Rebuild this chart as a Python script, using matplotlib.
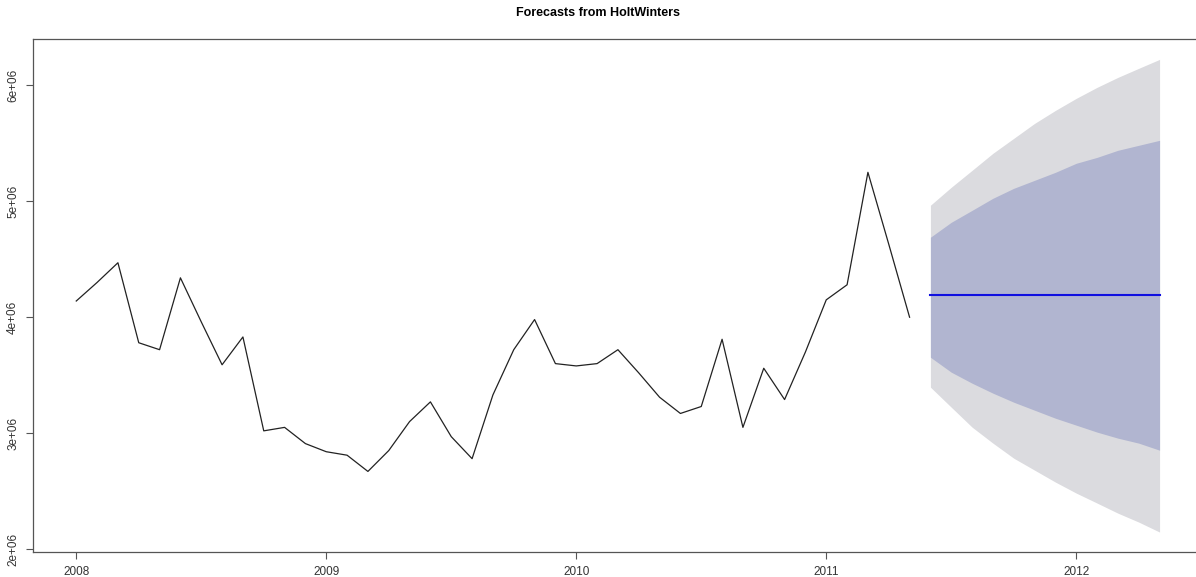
import numpy as np
import matplotlib
matplotlib.use("Agg")
import matplotlib.pyplot as plt

plt.rcParams['font.family'] = ['Liberation Sans', 'DejaVu Sans']

# monthly series, Jan 2008 .. May 2011
start_year = 2008
observed = [4.14e6, 4.30e6, 4.47e6, 3.78e6, 3.72e6, 4.34e6, 3.96e6, 3.59e6, 3.83e6, 3.02e6,
            3.05e6, 2.91e6, 2.84e6, 2.81e6, 2.67e6, 2.85e6, 3.10e6, 3.27e6, 2.97e6, 2.78e6,
            3.33e6, 3.72e6, 3.98e6, 3.60e6, 3.58e6, 3.60e6, 3.72e6, 3.52e6, 3.31e6, 3.17e6,
            3.23e6, 3.81e6, 3.05e6, 3.56e6, 3.29e6, 3.70e6, 4.15e6, 4.28e6, 5.25e6, 4.63e6,
            4.00e6]

# forecast Jun 2011 .. May 2012
fc_mean = [4.19e6] * 12
hi80 = [4.690e6, 4.819e6, 4.922e6, 5.026e6, 5.112e6, 5.181e6, 5.250e6, 5.328e6, 5.379e6,
        5.440e6, 5.483e6, 5.526e6]
lo80 = [3.655e6, 3.526e6, 3.431e6, 3.345e6, 3.267e6, 3.198e6, 3.129e6, 3.069e6, 3.009e6,
        2.957e6, 2.914e6, 2.853e6]
hi95 = [4.966e6, 5.121e6, 5.267e6, 5.414e6, 5.543e6, 5.672e6, 5.784e6, 5.888e6, 5.983e6,
        6.069e6, 6.147e6, 6.224e6]
lo95 = [3.397e6, 3.224e6, 3.052e6, 2.914e6, 2.784e6, 2.681e6, 2.578e6, 2.483e6, 2.397e6,
        2.310e6, 2.233e6, 2.147e6]

year_ticks = [2008, 2009, 2010, 2011, 2012]
y_ticks = [2e6, 3e6, 4e6, 5e6, 6e6]
y_labels = ['2e+06', '3e+06', '4e+06', '5e+06', '6e+06']

t_obs = start_year + np.arange(len(observed)) / 12
t_fc = start_year + (len(observed) + np.arange(len(fc_mean))) / 12

fig = plt.figure(figsize=(11.96, 5.77), dpi=100)
ax = fig.add_axes([33 / 1196, 25 / 577, 1170 / 1196, 513 / 577])

ax.fill_between(t_fc, lo95, hi95, color='#dbdbdf', linewidth=0)
ax.fill_between(t_fc, lo80, hi80, color='#b1b5d0', linewidth=0)
ax.plot(t_fc, fc_mean, color='#1010e0', linewidth=1.5)
ax.plot(t_obs, observed, color='#222222', linewidth=0.9)

ax.set_xlim(2007.827, 2012.507)
ax.set_ylim(1.975e6, 6.40e6)

ax.set_xticks(year_ticks)
ax.set_xticklabels([str(y) for y in year_ticks], fontsize=8.5, color='#333333')
ax.set_yticks(y_ticks)
ax.set_yticklabels(y_labels, fontsize=8.5, color='#333333', rotation=90, va='center')
ax.tick_params(direction='out', length=5, width=0.8, color='#555555', pad=5)

for s in ax.spines.values():
    s.set_color('#555555')
    s.set_linewidth(0.9)
ax.spines['right'].set_visible(False)

fig.text(0.5, 1 - 13 / 577, 'Forecasts from HoltWinters', ha='center', va='center',
         fontsize=9, fontweight='bold')

fig.savefig('out.png', dpi=100)
